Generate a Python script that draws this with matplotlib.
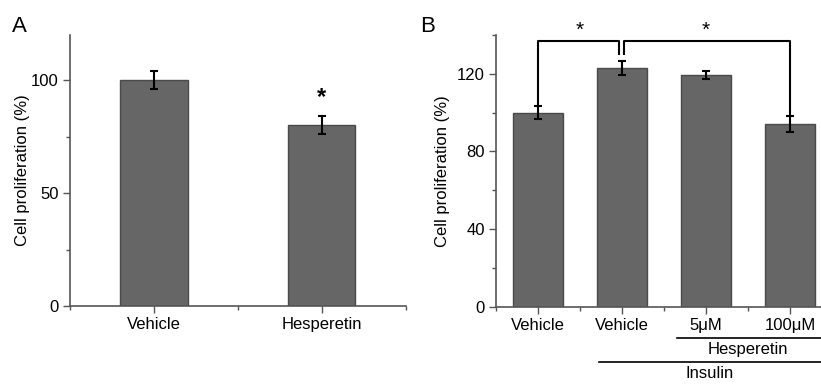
import numpy as np
import matplotlib
matplotlib.use("Agg")
import matplotlib.pyplot as plt
from matplotlib.ticker import MultipleLocator
import matplotlib.transforms as mtransforms

plt.rcParams['font.family'] = ['Liberation Sans', 'DejaVu Sans']

# panel A
a_labels = ["Vehicle", "Hesperetin"]
a_values = [100, 80]
a_errors = [4, 4]

# panel B
b_labels = ["Vehicle", "Vehicle", "5\u03bcM", "100\u03bcM"]
b_values = [100, 123, 119.5, 94]
b_errors = [3.5, 3.5, 2, 4]

BAR = "#666666"
EDGE = "#4a4a4a"
AXC = "#555555"
FS = 12


def style_axes(ax):
    for s in ["top", "right"]:
        ax.spines[s].set_visible(False)
    for s in ["left", "bottom"]:
        ax.spines[s].set_color(AXC)
        ax.spines[s].set_linewidth(1.2)
    ax.tick_params(which="major", direction="out", length=5, width=1, color=AXC,
                   labelsize=FS, pad=3)
    ax.tick_params(which="minor", direction="out", length=3, width=1, color=AXC)
    ax.set_ylabel("Cell proliferation (%)", fontsize=FS)


fig = plt.figure(figsize=(8.21, 3.9), dpi=100)

# ---- A ----
axA = fig.add_axes([0.0853, 0.2154, 0.409, 0.695])
xa = np.arange(len(a_labels))
axA.bar(xa, a_values, width=0.4, color=BAR, edgecolor=EDGE, linewidth=1)
axA.errorbar(xa, a_values, yerr=a_errors, fmt="none", ecolor="black",
             elinewidth=1.5, capsize=3, capthick=1.5)
axA.set_xlim(-0.5, 1.5)
axA.set_ylim(0, 120)
axA.set_xticks(xa)
axA.set_xticklabels(a_labels)
axA.xaxis.set_minor_locator(MultipleLocator(0.5))
axA.yaxis.set_major_locator(MultipleLocator(50))
axA.yaxis.set_minor_locator(MultipleLocator(25))
style_axes(axA)
axA.yaxis.set_label_coords(-0.12, 0.5)
axA.text(1, a_values[1] + a_errors[1] + 3, "*", ha="center", va="bottom",
         fontsize=17, fontweight="bold")
fig.text(0.014, 0.96, "A", fontsize=16, va="top", ha="left")

# ---- B ----
axB = fig.add_axes([0.604, 0.2136, 0.396, 0.6967])
xb = np.arange(len(b_labels))
axB.bar(xb, b_values, width=0.6, color=BAR, edgecolor=EDGE, linewidth=1)
axB.errorbar(xb, b_values, yerr=b_errors, fmt="none", ecolor="black",
             elinewidth=1.5, capsize=3, capthick=1.5)
axB.set_xlim(-0.5, 3.37)
axB.set_ylim(0, 140)
axB.set_xticks(xb)
axB.set_xticklabels(b_labels)
axB.xaxis.set_minor_locator(MultipleLocator(0.5))
axB.yaxis.set_major_locator(MultipleLocator(40))
axB.yaxis.set_minor_locator(MultipleLocator(20))
style_axes(axB)
axB.yaxis.set_label_coords(-0.14, 0.5)
fig.text(0.512, 0.96, "B", fontsize=16, va="top", ha="left")

# significance brackets
top = 137
lk = dict(color="black", lw=1.5, clip_on=False, solid_capstyle="butt")
axB.plot([0, 0, 0.97, 0.97], [b_values[0] + b_errors[0], top, top, 129.5], **lk)
axB.plot([1.03, 1.03, 3, 3], [129.5, top, top, b_values[3] + b_errors[3] + 1], **lk)
axB.text(0.5, top + 0.5, "*", ha="center", va="bottom", fontsize=15, clip_on=False)
axB.text(2.0, top + 0.5, "*", ha="center", va="bottom", fontsize=15, clip_on=False)

# group lines under the axis
trans = mtransforms.blended_transform_factory(axB.transData, axB.transAxes)
axB.plot([1.66, 3.37], [-0.115, -0.115], transform=trans, color="black", lw=1.2,
         clip_on=False)
axB.text(2.5, -0.13, "Hesperetin", transform=trans, ha="center", va="top", fontsize=FS)
axB.plot([0.73, 3.37], [-0.205, -0.205], transform=trans, color="black", lw=1.2,
         clip_on=False)
axB.text(2.05, -0.22, "Insulin", transform=trans, ha="center", va="top", fontsize=FS)

fig.savefig("out.png", dpi=100)
